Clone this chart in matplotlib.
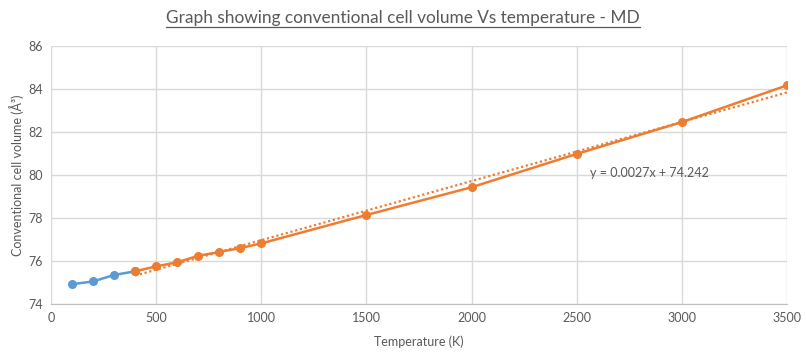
import matplotlib.pyplot as plt
import numpy as np

plt.rcParams['font.family'] = ['Lato', 'DejaVu Sans']

BLUE = "#5B9BD5"
ORANGE = "#ED7D31"
TEXT_GRAY = "#595959"
GRID_GRAY = "#d9d9d9"

# low temperature series
temp_low = [100, 200, 300, 400]
vol_low = [74.92, 75.05, 75.35, 75.52]

# MD series
temp_md = [400, 500, 600, 700, 800, 900, 1000, 1500, 2000, 2500, 3000, 3500]
vol_md = [75.52, 75.75, 75.94, 76.24, 76.42, 76.60, 76.82, 78.14, 79.43, 80.98, 82.46, 84.17]

x_ticks = [0, 500, 1000, 1500, 2000, 2500, 3000, 3500]
y_ticks = [74, 76, 78, 80, 82, 84, 86]

fig = plt.figure(figsize=(8.06, 3.56), dpi=100)
ax = fig.add_axes([51/806, 1 - 304/356, 736/806, 258/356])

ax.plot(temp_low, vol_low, marker='o', markersize=5.5, linewidth=1.8, color=BLUE, zorder=3)
ax.plot(temp_md, vol_md, marker='o', markersize=5.5, linewidth=1.8, color=ORANGE, zorder=4)

# linear trendline like excel
coef = np.polyfit(temp_md, vol_md, 1)
tx = np.array([temp_md[0], temp_md[-1]])
ax.plot(tx, np.polyval(coef, tx), linestyle=(0, (1, 1.2)), linewidth=1.6, color=ORANGE, zorder=2)
ax.text(2565, 80.1, "y = 0.0027x + 74.242", fontsize=9, color=TEXT_GRAY, va='center', ha='left')

ax.set_xlim(0, 3500)
ax.set_ylim(74, 86)
ax.set_xticks(x_ticks)
ax.set_yticks(y_ticks)
ax.grid(True, color=GRID_GRAY, linewidth=1)
ax.set_axisbelow(True)
for s in ['top', 'right', 'left']:
    ax.spines[s].set_visible(False)
ax.spines['bottom'].set_color("#bfbfbf")
ax.tick_params(length=0, labelsize=9, colors=TEXT_GRAY, pad=6)

ax.set_xlabel("Temperature (K)", fontsize=9, color=TEXT_GRAY, labelpad=8)
ax.set_ylabel("Conventional cell volume (Å³)", fontsize=9, color=TEXT_GRAY, labelpad=3)

fig.text(0.5, 1 - 18/356, "Graph showing conventional cell volume Vs temperature - MD",
         fontsize=12.4, color=TEXT_GRAY, ha='center', va='center')
# underline the title
fig.canvas.draw()
t = fig.texts[0]
bb = t.get_window_extent().transformed(fig.transFigure.inverted())
fig.add_artist(plt.Line2D([bb.x0, bb.x1], [bb.y0 - 0.004, bb.y0 - 0.004], color=TEXT_GRAY,
                          linewidth=0.9, transform=fig.transFigure))

fig.savefig("out.png", dpi=100)
